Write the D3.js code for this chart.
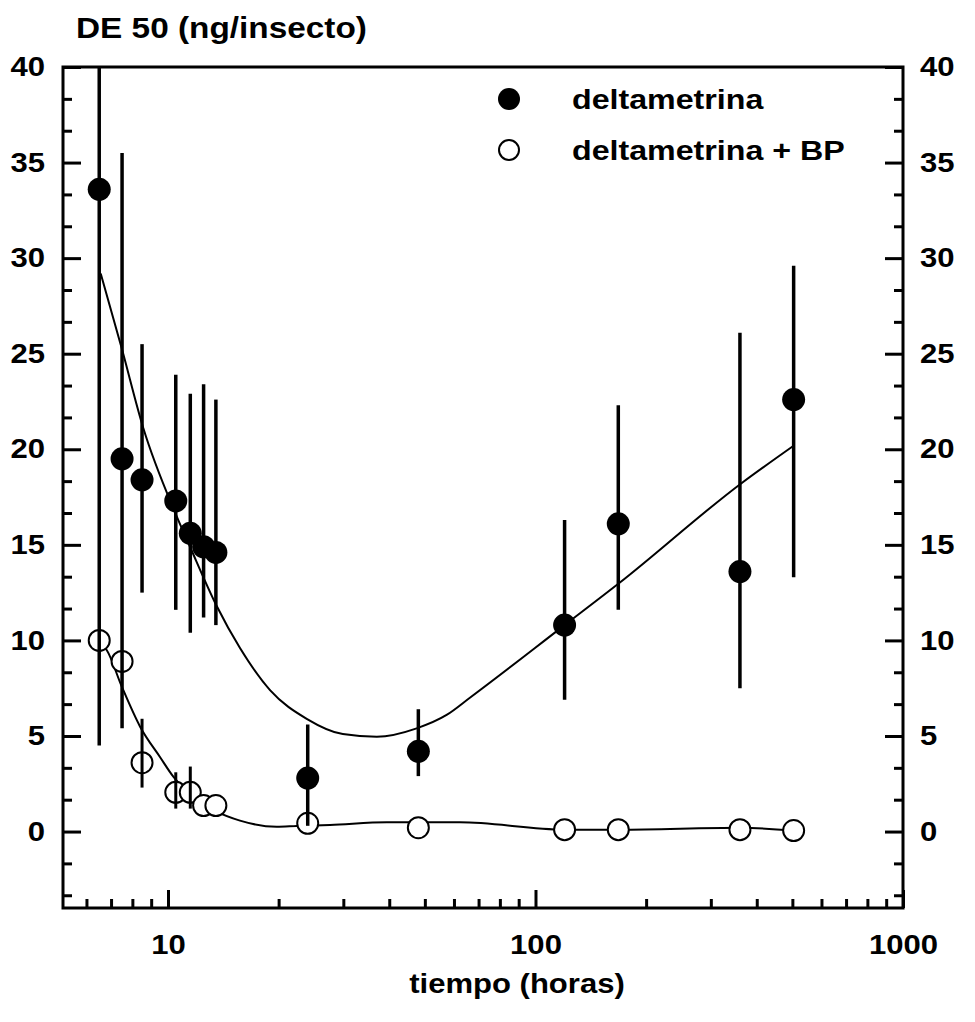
<!DOCTYPE html>
<meta charset="utf-8">
<style>
body { margin: 0; background: #fff; }
svg text { font-family: "Liberation Sans", Arial, sans-serif; font-weight: bold; fill: #000; }
.wide-end { transform-box: fill-box; transform-origin: right center; transform: scaleX(1.15); }
.wide-start { transform-box: fill-box; transform-origin: left center; transform: scaleX(1.15); }
.wide-mid { transform-box: fill-box; transform-origin: center center; transform: scaleX(1.15); }
.axis path.domain { display: none; }
.axis line { stroke: #000; stroke-width: 3; }
</style>
<svg width="975" height="1022"></svg>
<script src="https://d3js.org/d3.v7.min.js"></script>
<script>

// tiempo (horas)
var tiempo = [6.5, 7.5, 8.5, 10.5, 11.5, 12.5, 13.5, 24, 48, 120, 168, 360, 504];

// DE 50 deltametrina, con barras de error
var deltametrina = [33.6, 19.5, 18.4, 17.3, 15.6, 14.9, 14.6, 2.8, 4.2, 10.8, 16.1, 13.6, 22.6];
var deltaInf     = [4.5, 5.4, 12.5, 11.6, 10.4, 11.2, 10.8, 0.3, 2.9, 6.9, 11.6, 7.5, 13.3];
var deltaSup     = [62.7, 35.5, 25.5, 23.9, 22.9, 23.4, 22.6, 5.6, 6.4, 16.3, 22.3, 26.1, 29.6];

// DE 50 deltametrina + BP
var deltaBP  = [10.0, 8.9, 3.6, 2.05, 2.05, 1.36, 1.36, 0.43, 0.2, 0.1, 0.1, 0.1, 0.05];
var bpInf    = [null, null, 2.3, 1.2, 1.2, null, null, null, null, null, null, null, null];
var bpSup    = [null, null, 5.9, 3.1, 3.4, null, null, null, null, null, null, null, null];

// curvas de ajuste
var ajusteTiempo = [6.56, 7.48, 8.57, 10.45, 11.48, 13.57, 15.7, 18.95, 23.85, 29.9, 37, 47.5, 57.3, 66.3, 120, 169, 362, 505];
var ajusteDelta  = [29.2, 25.3, 21.1, 16.7, 14.9, 11.8, 9.6, 7.4, 5.9, 5.1, 4.96, 5.4, 6.1, 7.0, 10.8, 13.0, 18.2, 20.2];
var ajusteBPTiempo = [6.45, 6.81, 7.48, 8.39, 9.51, 10.34, 11.72, 13.57, 15.7, 19.76, 22.4, 27.6, 39.4, 62.3, 120, 169, 362, 505];
var ajusteBP       = [9.94, 9.5, 7.6, 5.5, 3.9, 2.87, 1.82, 1.04, 0.57, 0.25, 0.29, 0.34, 0.48, 0.48, 0.1, 0.1, 0.2, 0.05];

var yTicks = [0, 5, 10, 15, 20, 25, 30, 35, 40];
var xTicks = [10, 100, 1000];
var leyenda = ["deltametrina", "deltametrina + BP"];

var svg = d3.select("svg"),
    margin = {top: 67, right: 72, bottom: 114, left: 63},
    width = +svg.attr("width") - margin.left - margin.right,
    height = +svg.attr("height") - margin.top - margin.bottom;

var x = d3.scaleLog().domain([5.18, 1000]).range([0, width]),
    y = d3.scaleLinear().domain([-4, 40]).range([height, 0]);

var g = svg.append("g")
    .attr("transform", "translate(" + margin.left + "," + margin.top + ")");

svg.append("defs").append("clipPath").attr("id", "clip")
  .append("rect").attr("width", width).attr("height", height);

// minor ticks
var yMinor = d3.range(-2, 24).map(function(i) { return i * 5 / 3; }).filter(function(v) { return v % 5 !== 0 && v > -4; });
var xMinor = [6, 7, 8, 9, 20, 30, 40, 50, 60, 70, 80, 90, 200, 300, 400, 500, 600, 700, 800, 900];

g.append("g").attr("class", "axis")
    .call(d3.axisLeft(y).tickValues(yMinor).tickSize(-9).tickFormat(""));
g.append("g").attr("class", "axis")
    .call(d3.axisLeft(y).tickValues(yTicks).tickSize(-18).tickPadding(18))
  .selectAll("text").attr("class", "wide-end").style("font-size", "27px");

g.append("g").attr("class", "axis")
    .attr("transform", "translate(" + width + ",0)")
    .call(d3.axisRight(y).tickValues(yMinor).tickSize(-9).tickFormat(""));
g.append("g").attr("class", "axis")
    .attr("transform", "translate(" + width + ",0)")
    .call(d3.axisRight(y).tickValues(yTicks).tickSize(-18).tickPadding(17))
  .selectAll("text").attr("class", "wide-start").style("font-size", "27px");

g.append("g").attr("class", "axis")
    .attr("transform", "translate(0," + height + ")")
    .call(d3.axisBottom(x).tickValues(xMinor).tickSize(-9).tickFormat(""));
g.append("g").attr("class", "axis")
    .attr("transform", "translate(0," + height + ")")
    .call(d3.axisBottom(x).tickValues(xTicks).tickSize(-18).tickPadding(27).tickFormat(d3.format("d")))
  .selectAll("text").attr("class", "wide-mid").style("font-size", "27px");

// marco
g.append("rect")
    .attr("width", width).attr("height", height)
    .attr("fill", "none").attr("stroke", "#000").attr("stroke-width", 3);

// curvas
var line = d3.line()
    .x(function(d) { return x(d[0]); })
    .y(function(d) { return y(d[1]); })
    .curve(d3.curveMonotoneX);

g.append("path")
    .datum(d3.zip(ajusteTiempo, ajusteDelta))
    .attr("fill", "none").attr("stroke", "#000").attr("stroke-width", 2)
    .attr("d", line);
g.append("path")
    .datum(d3.zip(ajusteBPTiempo, ajusteBP))
    .attr("fill", "none").attr("stroke", "#000").attr("stroke-width", 2)
    .attr("d", line);

var puntos = tiempo.map(function(t, i) {
  return {t: t, d: deltametrina[i], dl: deltaInf[i], dh: deltaSup[i],
          b: deltaBP[i], bl: bpInf[i], bh: bpSup[i]};
});

var plot = g.append("g").attr("clip-path", "url(#clip)");

// circulos abiertos
plot.selectAll(".abierto")
  .data(puntos)
  .enter().append("circle")
    .attr("class", "abierto")
    .attr("cx", function(d) { return x(d.t); })
    .attr("cy", function(d) { return y(d.b); })
    .attr("r", 10.5)
    .attr("fill", "#fff").attr("stroke", "#000").attr("stroke-width", 2);

// barras de error
plot.selectAll(".barra")
  .data(puntos)
  .enter().append("line")
    .attr("class", "barra")
    .attr("x1", function(d) { return x(d.t); })
    .attr("x2", function(d) { return x(d.t); })
    .attr("y1", function(d) { return y(d.dh); })
    .attr("y2", function(d) { return y(d.dl); })
    .attr("stroke", "#000").attr("stroke-width", 3.5);

plot.selectAll(".barraBP")
  .data(puntos.filter(function(d) { return d.bl !== null; }))
  .enter().append("line")
    .attr("class", "barraBP")
    .attr("x1", function(d) { return x(d.t); })
    .attr("x2", function(d) { return x(d.t); })
    .attr("y1", function(d) { return y(d.bh); })
    .attr("y2", function(d) { return y(d.bl); })
    .attr("stroke", "#000").attr("stroke-width", 3);

// circulos llenos
plot.selectAll(".lleno")
  .data(puntos)
  .enter().append("circle")
    .attr("class", "lleno")
    .attr("cx", function(d) { return x(d.t); })
    .attr("cy", function(d) { return y(d.d); })
    .attr("r", 11.5)
    .attr("fill", "#000");

// leyenda
var ley = g.selectAll(".ley")
  .data(leyenda)
  .enter().append("g")
    .attr("class", "ley")
    .attr("transform", function(d, i) { return "translate(446," + (32 + i * 51) + ")"; });
ley.append("circle")
    .attr("r", function(d, i) { return i === 0 ? 11 : 10; })
    .attr("fill", function(d, i) { return i === 0 ? "#000" : "#fff"; })
    .attr("stroke", "#000").attr("stroke-width", function(d, i) { return i === 0 ? 0 : 2; });
ley.append("text")
    .attr("class", "wide-start")
    .attr("x", 63).attr("dy", "0.35em")
    .style("font-size", "28px")
    .text(function(d) { return d; });

// titulos
svg.append("text")
    .attr("class", "wide-start")
    .attr("x", 76).attr("y", 38)
    .style("font-size", "29px")
    .text("DE 50 (ng/insecto)");

svg.append("text")
    .attr("class", "wide-mid")
    .attr("x", 517).attr("y", 993)
    .attr("text-anchor", "middle")
    .style("font-size", "27px")
    .text("tiempo (horas)");

</script>
